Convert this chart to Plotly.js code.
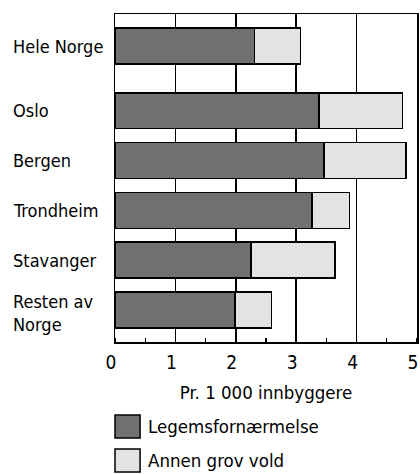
<!DOCTYPE html>
<html>
<head>
<meta charset="utf-8">
<script src="https://cdn.plot.ly/plotly-3.0.1.min.js"></script>
<style>html,body{margin:0;padding:0;background:#fff;}#chart{width:420px;height:474px;}</style>
</head>
<body>
<div id="chart"></div>
<script>
const categories = ["Hele Norge", "Oslo", "Bergen", "Trondheim", "Stavanger", "Resten av<br>Norge"];
const legemsfornaermelse = [2.31, 3.38, 3.46, 3.26, 2.25, 1.99];
const annenGrovVold = [0.76, 1.38, 1.36, 0.62, 1.39, 0.60];
const seriesNames = ["Legemsfornærmelse", "Annen grov vold"];
const xTicks = [0, 1, 2, 3, 4, 5];

const FONT = '"DejaVu Sans Condensed", "Liberation Sans", Arial, sans-serif';
const darkFill = '#707070';
const lightFill = '#e3e3e3';

// Row positions: first row (national total) separated by an extra gap
const groupGap = 0.3;
const ypos = categories.map((c, i) => i + (i > 0 ? groupGap : 0));

const barCommon = {
  type: 'bar', orientation: 'h', y: ypos, width: 0.72,
  hoverinfo: 'x+name', showlegend: false
};
const traces = [
  Object.assign({}, barCommon, {
    name: seriesNames[0], x: legemsfornaermelse,
    marker: {color: darkFill, line: {color: '#000', width: 1.5}}
  }),
  Object.assign({}, barCommon, {
    name: seriesNames[1], x: annenGrovVold,
    marker: {color: lightFill, line: {color: '#000', width: 1.5}}
  })
];

const annotations = categories.map((c, i) => ({
  text: c, xref: 'paper', yref: 'y', x: -0.345, y: ypos[i] + (i === categories.length - 1 ? 0.06 : 0),
  xanchor: 'left', yanchor: 'middle', align: 'left', showarrow: false,
  font: {family: FONT, size: 18, color: '#000'}
}));

// Legend built from series names
const legendFills = [darkFill, lightFill];
const legendTop = [-0.2226, -0.326];
const shapes = [];
seriesNames.forEach((n, i) => {
  shapes.push({type: 'rect', xref: 'paper', yref: 'paper',
    x0: 0, x1: 0.083, y0: legendTop[i], y1: legendTop[i] - 0.07,
    fillcolor: legendFills[i], line: {color: '#000', width: 1.5}});
  annotations.push({text: n, xref: 'paper', yref: 'paper',
    x: 0.103, y: legendTop[i] - 0.035, xanchor: 'left', yanchor: 'middle',
    showarrow: false, font: {family: FONT, size: 18.5, color: '#000'}});
});

const layout = {
  width: 420, height: 474,
  margin: {l: 115, r: 3, t: 14, b: 132, pad: 0},
  paper_bgcolor: '#fff', plot_bgcolor: '#fff',
  barmode: 'stack', bargap: 0,
  font: {family: FONT, size: 18, color: '#000'},
  xaxis: {
    range: [0, 5], tickvals: xTicks, ticktext: xTicks.map(String),
    ticklabeloverflow: 'allow', ticklabelshift: -4, ticklabelstandoff: 3,
    showgrid: true, gridcolor: '#000', gridwidth: 1.5,
    showline: true, linecolor: '#000', linewidth: 1.5, mirror: true,
    ticks: '', zeroline: false,
    tickfont: {family: FONT, size: 19},
    minor: {dtick: 0.5, tick0: 0, ticks: 'inside', ticklen: 4, tickcolor: '#000', tickwidth: 1.2, showgrid: false},
    title: {text: 'Pr. 1 000 innbyggere', font: {family: FONT, size: 18.5}, standoff: 14}
  },
  yaxis: {
    range: [5.944, -0.643], showticklabels: false, ticks: '',
    showgrid: false, zeroline: false,
    showline: true, linecolor: '#000', linewidth: 1.5, mirror: true
  },
  annotations: annotations,
  shapes: shapes
};

Plotly.newPlot('chart', traces, layout, {displayModeBar: false, staticPlot: true});
</script>
</body>
</html>
